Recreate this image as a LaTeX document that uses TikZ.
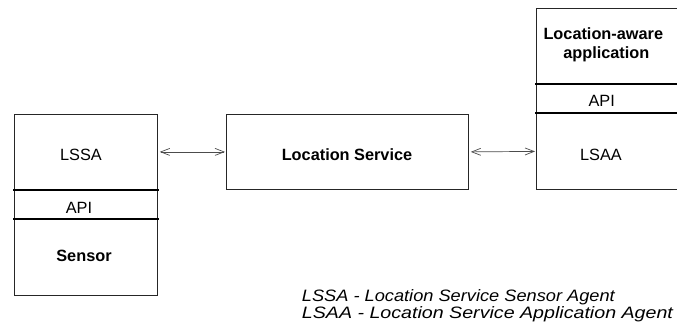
\documentclass[tikz,border=0pt]{standalone}
\usepackage{fontspec}
\setmainfont{Liberation Sans}
\usetikzlibrary{arrows.meta}
\begin{document}
\begin{tikzpicture}[x=1pt,y=-1pt,
  part/.style={draw=black!85, line width=0.8pt, inner sep=0pt, anchor=north west, minimum width=143pt},
  divider/.style={line width=1.4pt, line cap=rect},
  lbl/.style={font=\fontsize{16.3}{19}\selectfont, anchor=base, inner sep=0pt},
  blbl/.style={lbl, font=\fontsize{16.3}{19}\selectfont\bfseries},
  keytext/.style={anchor=base west, inner sep=0pt, font=\fontsize{16.5}{18}\selectfont\itshape},
  barbtip/.tip={Straight Barb[length=9pt,width=7pt]},
  link/.style={draw=black!70, line width=0.7pt, {barbtip}-{barbtip}, shorten <=2pt, shorten >=1pt},
]
\clip (0,0) rectangle (677,329);

% sensor-side stack
\node[part, minimum height=75pt] (lssa) at (14,114) {};
\node[part, minimum height=30pt] (lapi) at (14,189) {};
\node[part, minimum height=76pt] (sensor) at (14,219) {};
\draw[divider] (lssa.south west) -- (lssa.south east);
\draw[divider] (sensor.north west) -- (sensor.north east);
\node[lbl]  (tlssa)   at (81,160)   {LSSA};
\node[lbl]  (tlapi)   at (79,213.3) {API};
\node[blbl] (tsensor) at (84,261.7) {Sensor};

% central service
\node[part, minimum width=242pt, minimum height=75pt] (ls) at (226,114) {};
\node[blbl] (tls) at (347,160) {Location Service};

% application-side stack
\node[part, minimum height=75pt] (app) at (536,8) {};
\node[part, minimum height=30pt] (rapi) at (536,83) {};
\node[part, minimum height=76pt] (lsaa) at (536,113) {};
\draw[divider] (app.south west) -- (app.south east);
\draw[divider] (lsaa.north west) -- (lsaa.north east);
\node[blbl] (tapp1) at (603.3,39.3) {Location-aware};
\node[blbl] (tapp2) at (606.3,58.3) {application};
\node[lbl]  (trapi) at (601.7,106.7) {API};
\node[lbl]  (tlsaa) at (601,160) {LSAA};

% links
\draw[link] (lssa.east) -- (ls.west);
\draw[link] (ls.east) -- (lsaa.west);

% key
\node[keytext] (key1) at (301.7,301.5) {\scalebox{1.104}[1]{LSSA - Location Service Sensor Agent}};
\node[keytext] (key2) at (301.7,318.5) {\scalebox{1.19}[1]{LSAA - Location Service Application Agent}};
\end{tikzpicture}
\end{document}
